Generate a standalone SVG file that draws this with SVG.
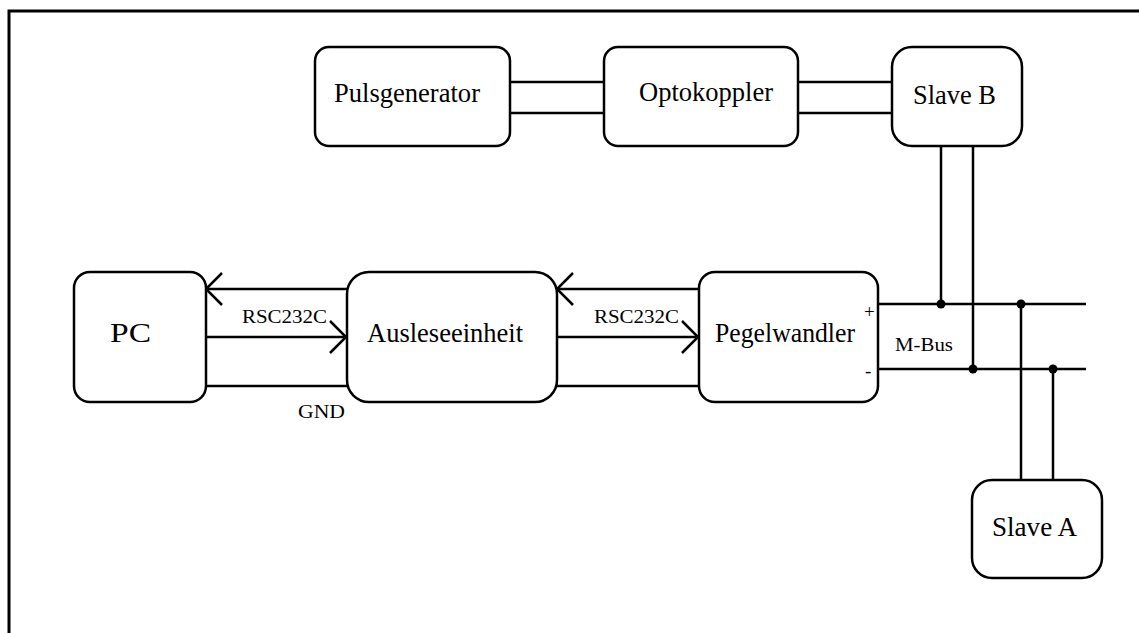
<svg xmlns="http://www.w3.org/2000/svg" width="1139" height="633" viewBox="0 0 1139 633">
<style>
.box{fill:#fff;stroke:#000;stroke-width:2.5}
.w{fill:none;stroke:#000;stroke-width:2.5}
.t{font-family:"Liberation Serif","Times New Roman",serif;fill:#000}
.big{font-size:28px}
.sm{font-size:19px}
.pm{font-size:19px}
</style>
<defs>
<marker id="v" viewBox="-18 -18 20 36" refX="0" refY="0" markerWidth="20" markerHeight="36" markerUnits="userSpaceOnUse" orient="auto">
<path d="M-16,-16 L0,0 L-16,16" fill="none" stroke="#000" stroke-width="2.5"/>
</marker>
</defs>
<rect width="1139" height="633" fill="#fff"/>
<path d="M9,633 V11 H1139" fill="none" stroke="#000" stroke-width="3"/>
<g id="connectors">
<path class="w" d="M347,289 H206" marker-end="url(#v)"/>
<path class="w" d="M206,337 H346" marker-end="url(#v)"/>
<path class="w" d="M206,386 H347"/>
<path class="w" d="M699,289 H557" marker-end="url(#v)"/>
<path class="w" d="M557,337 H698" marker-end="url(#v)"/>
<path class="w" d="M557,386 H699"/>
<path class="w" d="M510,82 H604 M510,113 H604"/>
<path class="w" d="M798,82 H892 M798,113 H892"/>
<path class="w" d="M878,304 H1086 M878,369 H1086"/>
<path class="w" d="M941,146 V304 M973,146 V369"/>
<path class="w" d="M1021,304 V480 M1053,369 V480"/>
<circle cx="941" cy="304" r="4.5"/>
<circle cx="973" cy="369" r="4.5"/>
<circle cx="1021" cy="304" r="4.5"/>
<circle cx="1053" cy="369" r="4.5"/>
</g>
<g id="pc">
<rect class="box" x="74" y="272" width="132" height="130" rx="16"/>
<text class="t big" x="110" y="342" textLength="41" lengthAdjust="spacingAndGlyphs">PC</text>
</g>
<g id="ausleseeinheit">
<rect class="box" x="347" y="272" width="210" height="130" rx="22"/>
<text class="t big" x="367" y="342" textLength="156" lengthAdjust="spacingAndGlyphs">Ausleseeinheit</text>
</g>
<g id="pegelwandler">
<rect class="box" x="699" y="272" width="179" height="130" rx="16"/>
<text class="t big" x="715" y="342" textLength="140" lengthAdjust="spacingAndGlyphs">Pegelwandler</text>
</g>
<g id="pulsgenerator">
<rect class="box" x="315" y="47" width="195" height="99" rx="14"/>
<text class="t big" x="334" y="102" textLength="146" lengthAdjust="spacingAndGlyphs">Pulsgenerator</text>
</g>
<g id="optokoppler">
<rect class="box" x="604" y="47" width="194" height="99" rx="14"/>
<text class="t big" x="639" y="101" textLength="134" lengthAdjust="spacingAndGlyphs">Optokoppler</text>
</g>
<g id="slaveB">
<rect class="box" x="892" y="47" width="130" height="99" rx="20"/>
<text class="t big" x="913" y="104" textLength="83" lengthAdjust="spacingAndGlyphs">Slave B</text>
</g>
<g id="slaveA">
<rect class="box" x="972" y="480" width="130" height="98" rx="20"/>
<text class="t big" x="992" y="536" textLength="85" lengthAdjust="spacingAndGlyphs">Slave A</text>
</g>
<g id="labels">
<text class="t sm" x="242" y="323" textLength="85" lengthAdjust="spacingAndGlyphs">RSC232C</text>
<text class="t sm" x="594" y="323" textLength="85" lengthAdjust="spacingAndGlyphs">RSC232C</text>
<text class="t sm" x="298" y="418" textLength="47" lengthAdjust="spacingAndGlyphs">GND</text>
<text class="t" style="font-size:18px" x="895" y="351" textLength="58" lengthAdjust="spacingAndGlyphs">M-Bus</text>
<text class="t pm" x="864" y="318">+</text>
<text class="t pm" x="865" y="377">-</text>
</g>
</svg>
